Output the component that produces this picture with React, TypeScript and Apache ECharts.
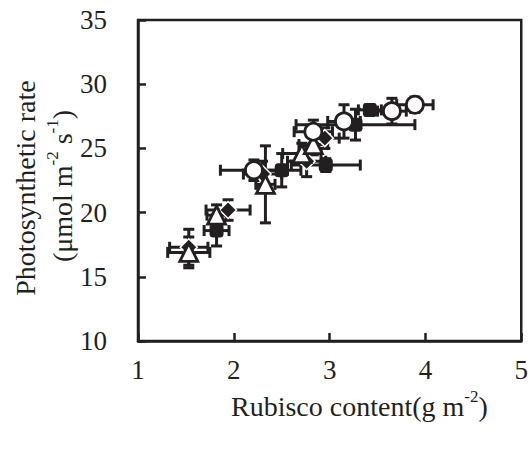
import React, { useEffect, useRef } from "react";
import * as echarts from "echarts";

// Open circles
const circX = [2.21, 2.83, 3.15, 3.65, 3.89];
const circY = [23.3, 26.3, 27.1, 27.9, 28.4];
const circXErr = [0.35, 0.2, 0.17, 0.15, 0.19];
const circYErr = [0.8, 0.9, 1.3, 1.0, 0.6];

// Open triangles
const triX = [1.53, 1.82, 2.33, 2.71, 2.83];
const triY = [16.9, 19.8, 22.2, 24.6, 25.3];
const triXErr = [0.22, 0.1, 0.1, 0.2, 0.15];
const triYErr = [1.2, 0.8, 3.0, 0.8, 0.8];

// Filled diamonds
const diaX = [1.53, 1.94, 2.3, 2.76, 2.95];
const diaY = [17.3, 20.2, 23.0, 24.0, 25.8];
const diaXErr = [0.2, 0.23, 0.2, 0.2, 0.15];
const diaYErr = [1.4, 0.8, 1.0, 1.2, 0.8];

// Filled squares
const sqX = [1.82, 2.5, 2.96, 3.27, 3.42];
const sqY = [18.6, 23.3, 23.7, 26.85, 28.0];
const sqXErr = [0.13, 0.2, 0.36, 0.62, 0.12];
const sqYErr = [1.2, 1.3, 0.5, 1.2, 0.4];

const xTicks = [1, 2, 3, 4, 5];
const yTicks = [10, 15, 20, 25, 30, 35];

const INK = "#231f20";
const FONT = "Liberation Serif";

function rows(x: number[], y: number[], ex: number[], ey: number[]) {
  return x.map((v, i) => [v, y[i], ex[i], ey[i]]);
}

const errSeries = (name: string, data: number[][]) => ({
  type: "custom",
  name,
  z: 2,
  encode: { x: 0, y: 1 },
  data,
  renderItem: (_params: any, api: any) => {
    const x = api.value(0);
    const y = api.value(1);
    const ex = api.value(2);
    const ey = api.value(3);
    const l = api.coord([x - ex, y]);
    const r = api.coord([x + ex, y]);
    const t = api.coord([x, y + ey]);
    const b = api.coord([x, y - ey]);
    const cap = 5.5;
    const st = { stroke: INK, lineWidth: 3 };
    return {
      type: "group",
      children: [
        { type: "line", shape: { x1: l[0], y1: l[1], x2: r[0], y2: r[1] }, style: st },
        { type: "line", shape: { x1: l[0], y1: l[1] - cap, x2: l[0], y2: l[1] + cap }, style: st },
        { type: "line", shape: { x1: r[0], y1: r[1] - cap, x2: r[0], y2: r[1] + cap }, style: st },
        { type: "line", shape: { x1: t[0], y1: t[1], x2: b[0], y2: b[1] }, style: st },
        { type: "line", shape: { x1: t[0] - cap, y1: t[1], x2: t[0] + cap, y2: t[1] }, style: st },
        { type: "line", shape: { x1: b[0] - cap, y1: b[1], x2: b[0] + cap, y2: b[1] }, style: st },
      ],
    };
  },
});

export default function App() {
  const ref = useRef<HTMLDivElement>(null);
  useEffect(() => {
    if (!ref.current) return;
    const chart = echarts.init(ref.current, undefined, { renderer: "svg" });
    const circ = rows(circX, circY, circXErr, circYErr);
    const tri = rows(triX, triY, triXErr, triYErr);
    const dia = rows(diaX, diaY, diaXErr, diaYErr);
    const sq = rows(sqX, sqY, sqXErr, sqYErr);
    const rich = {
      n: { fontSize: 28, fontFamily: FONT, fill: INK, lineHeight: 32, verticalAlign: "bottom" },
      s: { fontSize: 17, fontFamily: FONT, fill: INK, lineHeight: 17, verticalAlign: "top" },
    };
    chart.setOption({
      animation: false,
      backgroundColor: "#fff",
      grid: {
        left: 138,
        right: 3,
        top: 20,
        bottom: 108,
        show: true,
        borderColor: INK,
        borderWidth: 2.5,
      },
      xAxis: {
        type: "value",
        min: xTicks[0],
        max: xTicks[xTicks.length - 1],
        interval: 1,
        axisLine: { show: true, lineStyle: { color: INK, width: 2.5 } },
        axisTick: { show: true, inside: true, length: 8, lineStyle: { color: INK, width: 2.5 } },
        axisLabel: { margin: 15, fontSize: 27, fontFamily: FONT, color: INK },
        splitLine: { show: false },
      },
      yAxis: {
        type: "value",
        min: yTicks[0],
        max: yTicks[yTicks.length - 1],
        interval: 5,
        axisLine: { show: true, lineStyle: { color: INK, width: 2.5 } },
        axisTick: { show: true, inside: true, length: 8, lineStyle: { color: INK, width: 2.5 } },
        axisLabel: { margin: 31, fontSize: 27, fontFamily: FONT, color: INK },
        splitLine: { show: false },
      },
      graphic: [
        {
          type: "text",
          left: 231,
          top: 388,
          style: {
            text: "{n|Rubisco content(g m}{s|-2}{n|)}",
            rich,
          },
        },
        {
          type: "text",
          x: 25,
          y: 188,
          rotation: Math.PI / 2,
          style: {
            text: "Photosynthetic rate",
            fontSize: 28,
            fontFamily: FONT,
            fill: INK,
            align: "center",
            verticalAlign: "middle",
          },
        },
        {
          type: "text",
          x: 60,
          y: 186,
          rotation: Math.PI / 2,
          style: {
            text: "{n|(μmol m}{s|-2}{n| s}{s|-1}{n|)}",
            align: "center",
            verticalAlign: "middle",
            rich,
          },
        },
      ],
      series: [
        errSeries("sqErr", sq),
        errSeries("diaErr", dia),
        errSeries("triErr", tri),
        errSeries("circErr", circ),
        {
          type: "scatter",
          name: "squares",
          z: 3,
          data: sq.map((r) => [r[0], r[1]]),
          symbol: "roundRect",
          symbolSize: 14,
          itemStyle: { color: INK, opacity: 1 },
        },
        {
          type: "scatter",
          name: "diamonds",
          z: 4,
          data: dia.map((r) => [r[0], r[1]]),
          symbol: "diamond",
          symbolSize: 17,
          itemStyle: { color: INK, borderColor: "#fff", borderWidth: 1.5, opacity: 1 },
        },
        {
          type: "scatter",
          name: "triangles",
          z: 5,
          data: tri.map((r) => [r[0], r[1]]),
          symbol: "triangle",
          symbolSize: 18,
          itemStyle: { color: "#fff", borderColor: INK, borderWidth: 2.8, opacity: 1 },
        },
        {
          type: "scatter",
          name: "circles",
          z: 6,
          data: circ.map((r) => [r[0], r[1]]),
          symbol: "circle",
          symbolSize: 17,
          itemStyle: { color: "#fff", borderColor: INK, borderWidth: 2.8, opacity: 1 },
        },
      ],
    });
    return () => chart.dispose();
  }, []);
  return (
    <div
      ref={ref}
      style={{ position: "fixed", left: 0, top: 0, width: 531, height: 449, background: "#fff" }}
    />
  );
}
